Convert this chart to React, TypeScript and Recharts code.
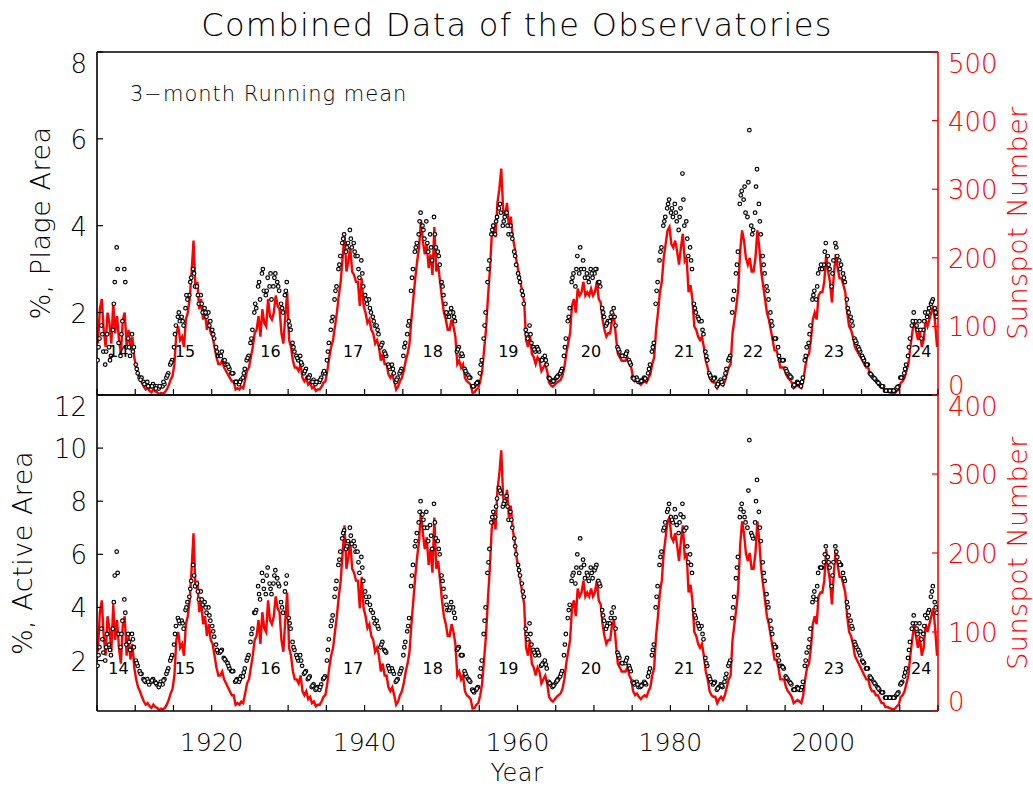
import React from 'react';
import { ComposedChart, Line, Scatter, XAxis, YAxis } from 'recharts';

const START_YEAR = 1905;

// sunspot number, 3-month running mean, 4 values per year, 1905 .. 2014
const sunspot = [
  [75, 125, 140, 95], [70, 120, 105, 75], [135, 90, 115, 80], [60, 110, 120, 70], [95, 65, 85, 55],
  [40, 30, 25, 18], [12, 8, 10, 6], [4, 8, 5, 4], [1, 3, 2, 4], [8, 14, 22, 28],
  [45, 90, 100, 80], [85, 70, 110, 120], [140, 180, 225, 155], [165, 125, 140, 110], [120, 95, 110, 90],
  [85, 70, 55, 45], [45, 50, 40, 35], [30, 25, 20, 20], [8, 10, 8, 12], [10, 22, 35, 40],
  [55, 70, 90, 95], [115, 85, 125, 105], [100, 140, 115, 110], [120, 145, 130, 125], [90, 75, 115, 150],
  [80, 70, 50, 40], [40, 35, 45, 25], [20, 25, 15, 18], [10, 12, 6, 8], [8, 12, 18, 20],
  [35, 55, 70, 80], [100, 120, 145, 165], [200, 235, 180, 195], [215, 180, 175, 165], [165, 130, 170, 130],
  [120, 105, 110, 95], [90, 75, 80, 70], [50, 60, 45, 45], [30, 25, 30, 20], [8, 12, 20, 25],
  [35, 50, 60, 75], [110, 140, 170, 195], [215, 255, 225, 205], [220, 185, 205, 175], [245, 180, 190, 165],
  [140, 120, 110, 95], [95, 110, 100, 85], [45, 50, 40, 45], [25, 20, 18, 15], [3, 4, 8, 10],
  [20, 35, 65, 95], [140, 180, 230, 250], [230, 280, 300, 330], [270, 260, 280, 245], [260, 230, 215, 195],
  [180, 165, 150, 135], [80, 70, 90, 60], [55, 45, 55, 50], [35, 40, 45, 35], [18, 14, 12, 15],
  [18, 20, 22, 28], [40, 60, 75, 90], [130, 140, 120, 155], [145, 150, 165, 145], [150, 145, 155, 145],
  [150, 165, 140, 135], [110, 95, 85, 90], [90, 110, 115, 85], [60, 55, 50, 50], [50, 55, 45, 40],
  [25, 20, 22, 18], [15, 18, 20, 18], [25, 30, 45, 55], [95, 120, 150, 165], [200, 220, 240, 245],
  [220, 215, 225, 210], [190, 215, 235, 195], [200, 150, 160, 140], [100, 95, 85, 80], [85, 70, 50, 40],
  [25, 20, 18, 18], [10, 15, 18, 14], [20, 30, 40, 45], [90, 110, 130, 155], [210, 240, 225, 200],
  [190, 200, 180, 180], [200, 240, 215, 180], [160, 140, 120, 110], [95, 80, 65, 65], [55, 40, 40, 40],
  [30, 25, 22, 18], [10, 12, 14, 12], [10, 20, 40, 55], [60, 80, 110, 120], [110, 145, 150, 150],
  [165, 205, 180, 165], [135, 175, 205, 185], [170, 170, 160, 150], [120, 100, 95, 85], [70, 65, 60, 55],
  [50, 45, 40, 40], [30, 25, 25, 20], [20, 15, 10, 10], [5, 5, 4, 3], [2, 3, 6, 8],
  [18, 20, 25, 35], [45, 70, 90, 110], [95, 80, 95, 70], [80, 110, 100, 110], [120, 130, 105, 70],
];

// plage area in %, 4 values per year
const plage = [
  [0.9, 1.4, 1.7, 1.1], [0.8, 1.5, 1.2, 1.0], [1.6, 2.7, 3.5, 1.3], [1.0, 1.8, 3.0, 1.2], [1.4, 1.0, 1.5, 1.2],
  [0.8, 0.6, 0.5, 0.5], [0.4, 0.35, 0.4, 0.3], [0.3, 0.35, 0.3, 0.3], [0.25, 0.3, 0.3, 0.35], [0.5, 0.6, 0.8, 0.9],
  [1.2, 1.7, 1.9, 1.8], [1.9, 1.7, 2.1, 2.3], [2.4, 2.8, 3.0, 2.6], [2.6, 2.2, 2.4, 2.0], [2.1, 1.9, 2.0, 1.8],
  [1.6, 1.4, 1.2, 1.0], [1.0, 1.1, 0.9, 0.8], [0.8, 0.7, 0.6, 0.6], [0.4, 0.4, 0.35, 0.45], [0.5, 0.7, 0.9, 1.0],
  [1.3, 1.6, 2.0, 2.1], [2.6, 2.3, 2.9, 2.5], [2.4, 2.8, 2.6, 2.3], [2.6, 2.9, 2.7, 2.5], [2.2, 2.0, 2.4, 2.7],
  [1.8, 1.6, 1.3, 1.1], [1.0, 0.9, 1.0, 0.8], [0.6, 0.7, 0.5, 0.55], [0.4, 0.45, 0.35, 0.4], [0.4, 0.5, 0.6, 0.6],
  [0.9, 1.3, 1.6, 1.9], [2.3, 2.6, 3.0, 3.3], [3.6, 3.8, 3.4, 3.6], [3.9, 3.5, 3.6, 3.3], [3.3, 2.8, 3.2, 2.6],
  [2.4, 2.2, 2.3, 2.0], [1.9, 1.7, 1.7, 1.5], [1.2, 1.3, 1.1, 1.0], [0.8, 0.7, 0.8, 0.6], [0.4, 0.5, 0.6, 0.7],
  [1.0, 1.3, 1.5, 1.8], [2.5, 3.0, 3.4, 3.6], [3.8, 4.3, 4.0, 3.7], [4.1, 3.4, 3.8, 3.2], [4.2, 3.5, 3.4, 3.1],
  [2.7, 2.4, 2.2, 1.9], [1.9, 2.1, 2.0, 1.8], [1.1, 1.2, 1.0, 1.0], [0.7, 0.6, 0.55, 0.5], [0.3, 0.3, 0.35, 0.4],
  [0.6, 0.9, 1.4, 2.0], [2.7, 3.2, 3.8, 4.0], [3.8, 4.2, 4.4, 4.3], [4.0, 4.2, 4.3, 3.8], [4.0, 3.7, 3.4, 3.1],
  [2.9, 2.7, 2.5, 2.2], [1.6, 1.4, 1.7, 1.3], [1.2, 1.1, 1.2, 1.1], [0.9, 0.95, 1.0, 0.8], [0.5, 0.45, 0.4, 0.45],
  [0.5, 0.55, 0.6, 0.7], [1.0, 1.4, 1.8, 2.1], [2.7, 2.9, 2.6, 3.3], [2.9, 3.0, 3.2, 2.8], [2.9, 2.7, 3.0, 2.8],
  [2.9, 3.0, 2.7, 2.6], [2.1, 1.9, 1.7, 1.8], [1.8, 2.0, 2.1, 1.7], [1.2, 1.1, 1.0, 1.0], [1.0, 1.1, 0.9, 0.8],
  [0.5, 0.45, 0.5, 0.4], [0.4, 0.45, 0.5, 0.45], [0.6, 0.8, 1.1, 1.3], [2.2, 2.7, 3.2, 3.5], [4.0, 4.2, 4.4, 4.6],
  [4.3, 4.2, 4.5, 4.1], [3.9, 4.4, 5.2, 4.0], [4.1, 3.3, 3.5, 3.0], [2.2, 2.0, 1.9, 1.8], [1.8, 1.5, 1.1, 0.9],
  [0.6, 0.5, 0.45, 0.5], [0.3, 0.4, 0.45, 0.35], [0.5, 0.7, 0.9, 1.0], [2.0, 2.5, 2.9, 3.4], [4.5, 4.8, 4.6, 4.3],
  [4.2, 6.2, 4.0, 3.9], [4.3, 5.3, 4.5, 3.8], [3.3, 2.9, 2.6, 2.3], [2.0, 1.7, 1.4, 1.4], [1.2, 0.9, 0.9, 0.9],
  [0.7, 0.6, 0.55, 0.5], [0.3, 0.35, 0.4, 0.35], [0.3, 0.5, 0.9, 1.2], [1.3, 1.7, 2.3, 2.5], [2.3, 2.9, 3.0, 3.0],
  [3.1, 3.6, 3.3, 3.0], [2.6, 3.2, 3.6, 3.3], [3.2, 3.1, 2.9, 2.7], [2.3, 2.0, 1.9, 1.7], [1.4, 1.3, 1.2, 1.1],
  [1.0, 0.9, 0.8, 0.8], [0.6, 0.55, 0.5, 0.45], [0.4, 0.35, 0.3, 0.3], [0.2, 0.2, 0.2, 0.2], [0.2, 0.2, 0.25, 0.3],
  [0.5, 0.5, 0.6, 0.8], [1.0, 1.4, 1.7, 2.0], [1.8, 1.6, 1.8, 1.4], [1.6, 2.0, 1.9, 2.1], [2.2, 2.3, 2.1, 1.9],
];

// plage area in %, second observatory, 2 values per year
const plageB = [
  [1.2, 1.5], [1.1, 0.9], [2.2, 3.0], [1.5, 2.7], [1.2, 1.1], [0.7, 0.45], [0.35, 0.3], [0.3, 0.25], [0.3, 0.4], [0.55, 0.85],
  [1.5, 2.0], [1.8, 2.4], [2.7, 2.9], [2.4, 2.2], [2.0, 1.7], [1.5, 1.1], [1.0, 0.9], [0.75, 0.6], [0.4, 0.4], [0.6, 0.95],
  [1.4, 2.2], [2.7, 3.0], [2.5, 2.9], [2.8, 2.6], [2.1, 2.5], [1.7, 1.2], [0.95, 0.85], [0.65, 0.5], [0.4, 0.4], [0.45, 0.65],
  [1.1, 1.8], [2.5, 3.1], [3.7, 3.5], [3.7, 3.4], [3.0, 2.9], [2.3, 2.1], [1.8, 1.6], [1.25, 1.05], [0.75, 0.7], [0.45, 0.65],
  [1.2, 1.7], [2.8, 3.5], [4.1, 3.9], [3.6, 3.5], [3.8, 3.3], [2.6, 2.0], [2.0, 1.9], [1.15, 1.05], [0.65, 0.5], [0.3, 0.38],
  [0.8, 1.7], [3.0, 3.9], [4.1, 4.5], [4.1, 4.0], [3.8, 3.3], [2.8, 2.4], [1.5, 1.5], [1.15, 1.15], [0.9, 0.9], [0.48, 0.42],
  [0.52, 0.65], [1.2, 1.9], [2.8, 3.0], [3.5, 3.0], [2.8, 2.9], [3.0, 2.7], [2.0, 1.75], [1.9, 1.9], [1.15, 1.0], [1.05, 0.85],
  [0.48, 0.45], [0.42, 0.48], [0.7, 1.2], [2.5, 3.4], [4.1, 4.5], [4.4, 4.3], [4.2, 4.6], [3.7, 3.2], [2.1, 1.85], [1.6, 1.0],
  [0.55, 0.48], [0.35, 0.4], [0.6, 0.95], [2.3, 3.1], [4.7, 4.9], [5.0, 3.8], [4.9, 4.1], [3.1, 2.5], [1.8, 1.4], [1.0, 0.9],
  [0.65, 0.52], [0.33, 0.38], [0.4, 1.0], [1.5, 2.4], [2.6, 3.1], [3.4, 3.1], [2.9, 3.5], [3.0, 2.8], [2.1, 1.8], [1.35, 1.15],
  [0.95, 0.8], [0.58, 0.48], [0.38, 0.3], [0.2, 0.2], [0.2, 0.28], [0.5, 0.7], [1.2, 1.8], [1.7, 1.6], [1.8, 2.0], [2.25, 2.0],
];

// active area in %, 4 values per year
const active = [
  [1.8, 2.5, 3.2, 2.3], [2.0, 3.0, 2.6, 2.2], [3.2, 5.2, 6.1, 3.0], [2.5, 3.5, 4.3, 2.6], [3.0, 2.4, 3.0, 2.5],
  [2.0, 1.8, 1.6, 1.5], [1.3, 1.2, 1.3, 1.1], [1.2, 1.3, 1.2, 1.1], [1.0, 1.2, 1.1, 1.3], [1.5, 1.7, 2.0, 2.2],
  [2.6, 3.3, 3.6, 3.4], [3.5, 3.2, 3.9, 4.2], [4.4, 5.0, 5.6, 4.8], [4.9, 4.3, 4.6, 4.1], [4.2, 3.8, 4.0, 3.5],
  [3.3, 2.9, 2.6, 2.3], [2.3, 2.4, 2.1, 2.0], [1.9, 1.7, 1.6, 1.6], [1.2, 1.3, 1.2, 1.4], [1.4, 1.7, 2.0, 2.2],
  [2.7, 3.2, 3.8, 3.9], [4.8, 4.3, 5.3, 4.7], [4.5, 5.5, 4.9, 4.5], [4.9, 5.4, 5.1, 4.8], [4.2, 3.8, 4.6, 5.2],
  [3.6, 3.2, 2.7, 2.4], [2.2, 2.0, 2.2, 1.8], [1.5, 1.6, 1.3, 1.4], [1.0, 1.1, 0.9, 1.0], [0.9, 1.1, 1.3, 1.4],
  [2.0, 2.8, 3.3, 3.7], [4.4, 5.0, 5.6, 6.1], [6.6, 6.9, 6.2, 6.5], [7.0, 6.4, 6.5, 6.1], [6.1, 5.3, 5.9, 5.0],
  [4.6, 4.2, 4.4, 3.9], [3.8, 3.4, 3.5, 3.2], [2.5, 2.7, 2.4, 2.3], [1.8, 1.6, 1.7, 1.5], [1.2, 1.3, 1.5, 1.7],
  [2.2, 2.7, 3.1, 3.6], [4.8, 5.6, 6.3, 6.8], [7.2, 8.0, 7.5, 7.0], [7.6, 6.5, 7.1, 6.2], [7.9, 6.6, 6.5, 6.0],
  [5.2, 4.7, 4.4, 3.9], [3.9, 4.2, 4.0, 3.6], [2.4, 2.5, 2.2, 2.2], [1.6, 1.4, 1.3, 1.2], [0.9, 0.8, 0.9, 1.0],
  [1.4, 2.0, 3.0, 4.0], [5.3, 6.2, 7.2, 7.6], [7.4, 8.1, 8.5, 8.3], [7.8, 8.0, 8.2, 7.3], [7.6, 7.0, 6.6, 6.0],
  [5.6, 5.2, 4.9, 4.4], [3.2, 2.8, 3.4, 2.6], [2.4, 2.2, 2.4, 2.2], [1.8, 1.9, 2.0, 1.7], [1.2, 1.1, 1.0, 1.1],
  [1.2, 1.3, 1.4, 1.6], [2.2, 3.0, 3.6, 4.1], [5.0, 5.3, 4.9, 6.0], [5.3, 5.5, 5.8, 5.1], [5.3, 5.0, 5.5, 5.1],
  [5.4, 5.6, 5.0, 4.8], [3.9, 3.5, 3.2, 3.4], [3.4, 3.8, 4.0, 3.2], [2.3, 2.1, 1.9, 1.9], [1.9, 2.1, 1.8, 1.6],
  [1.2, 1.1, 1.2, 1.0], [1.0, 1.1, 1.2, 1.1], [1.4, 1.7, 2.2, 2.6], [4.0, 4.8, 5.6, 6.1], [6.9, 7.2, 7.6, 7.9],
  [7.4, 7.2, 7.7, 7.1], [6.8, 7.5, 7.9, 6.9], [7.0, 5.7, 6.0, 5.3], [3.9, 3.6, 3.4, 3.2], [3.3, 2.8, 2.1, 1.8],
  [1.4, 1.2, 1.1, 1.2], [0.9, 1.0, 1.1, 1.0], [1.2, 1.5, 1.8, 2.0], [3.6, 4.4, 5.1, 5.9], [7.4, 7.9, 7.6, 7.2],
  [7.0, 10.3, 6.8, 6.6], [7.2, 8.8, 7.6, 6.5], [5.7, 5.0, 4.5, 4.0], [3.5, 3.0, 2.6, 2.5], [2.2, 1.8, 1.8, 1.7],
  [1.4, 1.3, 1.2, 1.1], [0.9, 0.9, 1.0, 0.9], [0.9, 1.2, 1.8, 2.3], [2.5, 3.2, 4.2, 4.6], [4.3, 5.3, 5.5, 5.5],
  [5.7, 6.3, 5.9, 5.5], [4.8, 5.7, 6.3, 5.9], [5.7, 5.6, 5.3, 5.0], [4.2, 3.7, 3.5, 3.2], [2.7, 2.5, 2.4, 2.2],
  [2.0, 1.9, 1.7, 1.7], [1.4, 1.3, 1.2, 1.1], [1.0, 0.9, 0.8, 0.8], [0.6, 0.6, 0.6, 0.6], [0.6, 0.6, 0.7, 0.8],
  [1.1, 1.2, 1.4, 1.7], [2.1, 2.7, 3.2, 3.7], [3.4, 3.0, 3.4, 2.8], [3.0, 3.7, 3.6, 3.9], [4.4, 4.8, 4.2, 3.8],
];

// active area in %, second observatory, 2 values per year
const activeB = [
  [2.2, 2.8], [2.5, 2.4], [4.2, 5.3], [3.0, 3.8], [2.7, 2.8], [1.9, 1.5], [1.25, 1.2], [1.25, 1.15], [1.1, 1.25], [1.6, 2.1],
  [3.0, 3.5], [3.4, 4.0], [4.7, 5.2], [4.6, 4.3], [4.0, 3.7], [3.1, 2.4], [2.35, 2.05], [1.8, 1.6], [1.25, 1.3], [1.55, 2.1],
  [3.0, 3.8], [4.5, 5.0], [5.2, 4.7], [5.2, 4.9], [4.0, 4.9], [3.4, 2.5], [2.1, 2.0], [1.55, 1.35], [1.05, 0.95], [1.0, 1.35],
  [2.4, 3.5], [4.7, 5.8], [6.8, 6.3], [6.7, 6.3], [5.7, 5.5], [4.4, 4.1], [3.6, 3.3], [2.6, 2.35], [1.7, 1.6], [1.25, 1.6],
  [2.5, 3.3], [5.2, 6.5], [7.6, 7.3], [7.0, 6.7], [7.2, 6.2], [5.0, 4.1], [4.0, 3.8], [2.45, 2.2], [1.5, 1.25], [0.85, 0.95],
  [1.7, 3.5], [5.7, 7.4], [7.8, 8.4], [7.9, 7.8], [7.3, 6.3], [5.4, 4.6], [3.0, 3.0], [2.3, 2.3], [1.85, 1.85], [1.15, 1.05],
  [1.25, 1.5], [2.6, 3.9], [5.2, 5.5], [6.6, 5.6], [5.2, 5.3], [5.5, 4.9], [3.7, 3.3], [3.6, 3.6], [2.2, 1.9], [2.0, 1.7],
  [1.15, 1.1], [1.05, 1.15], [1.55, 2.4], [4.4, 5.9], [7.0, 7.7], [7.3, 7.4], [7.2, 7.4], [6.3, 5.6], [3.7, 3.3], [3.0, 1.9],
  [1.3, 1.15], [0.95, 1.05], [1.35, 1.9], [4.0, 5.5], [7.7, 7.4], [8.4, 6.7], [8.0, 7.0], [5.3, 4.2], [3.2, 2.5], [2.0, 1.75],
  [1.35, 1.15], [0.9, 0.95], [1.0, 2.0], [2.8, 4.4], [4.8, 5.5], [6.0, 5.7], [5.2, 6.1], [5.6, 5.1], [4.0, 3.3], [2.6, 2.3],
  [1.95, 1.7], [1.35, 1.15], [0.95, 0.8], [0.6, 0.6], [0.6, 0.75], [1.15, 1.55], [2.4, 3.4], [3.2, 3.1], [3.3, 3.8], [4.6, 4.0],
];

const cycleNames = ['14', '15', '16', '17', '18', '19', '20', '21', '22', '23', '24'];
const cycleYears = [1907.8, 1916.5, 1927.7, 1938.5, 1948.9, 1958.8, 1969.6, 1981.8, 1990.8, 2001.4, 2012.8];

const yearTicks = [1905, 1910, 1915, 1920, 1925, 1930, 1935, 1940, 1945, 1950, 1955, 1960, 1965, 1970, 1975, 1980, 1985, 1990, 1995, 2000, 2005, 2010, 2015];
const plageTicks = [2, 4, 6, 8];
const activeTicks = [2, 4, 6, 8, 10, 12];
const ssnTicksTop = [0, 100, 200, 300, 400, 500];
const ssnTicksBottom = [0, 100, 200, 300, 400];

const ssnData = sunspot.flatMap((row, i) => row.map((v, q) => ({ t: START_YEAR + i + (q + 0.5) / 4, ssn: v })));
const toDots = (a: number[][], b: number[][]) => [
  ...a.flatMap((row, i) => row.map((v, q) => ({ t: START_YEAR + i + (q + 0.3) / 4, v }))),
  ...b.flatMap((row, i) => row.map((v, q) => ({ t: START_YEAR + i + 0.2 + q * 0.5, v }))),
];
const plageData = toDots(plage, plageB);
const activeData = toDots(active, activeB);
const cyclesTop = cycleNames.map((n, i) => ({ t: cycleYears[i], v: 1.1, n }));
const cyclesBottom = cycleNames.map((n, i) => ({ t: cycleYears[i], v: 1.7, n }));

const FONT = '"DejaVu Sans", sans-serif';
const RED = '#ff0000';
const W = 1033;
const AX = 30; // axis box size

const dot = (p: any) => <circle cx={p.cx} cy={p.cy} r={1.8} fill="#fff" stroke="#000" strokeWidth={1.2} />;
const cycleLabel = (p: any) => (
  <text x={p.cx} y={p.cy} textAnchor="middle" dominantBaseline="central" fontFamily={FONT} fontSize={16} fill="#000">
    {p.payload.n}
  </text>
);

const xTick = (dir: number, labels: boolean) => (p: any) => {
  const v = p.payload.value;
  return (
    <g>
      <line x1={p.x} x2={p.x} y1={p.y} y2={p.y + dir * 6} stroke="#000" strokeWidth={1.2} />
      {labels && v % 20 === 0 && (
        <text x={p.x} y={p.y + 31} textAnchor="middle" dominantBaseline="central" fontFamily={FONT} fontWeight={200} fontSize={25} fill="#000">
          {v}
        </text>
      )}
    </g>
  );
};

// end labels are pushed inside the panel, like the original plot
const shift = (v: number, lo: number, hi: number) => (v === hi ? 12 : v === lo ? -9 : 1);

const leftTick = (hi: number) => (p: any) => (
  <g>
    <line x1={p.x} x2={p.x + 6} y1={p.y} y2={p.y} stroke="#000" strokeWidth={1.2} />
    <text x={p.x - 10} y={p.y + shift(p.payload.value, 0, hi)} textAnchor="end" dominantBaseline="central" fontFamily={FONT} fontWeight={200} fontSize={26} fill="#000">
      {p.payload.value}
    </text>
  </g>
);

const rightTick = (hi: number) => (p: any) => (
  <g>
    <line x1={p.x} x2={p.x - 6} y1={p.y} y2={p.y} stroke={RED} strokeWidth={1.2} />
    <text x={p.x + 10} y={p.y + shift(p.payload.value, 0, hi)} textAnchor="start" dominantBaseline="central" fontFamily={FONT} fontWeight={200} fontSize={26} fill={RED}>
      {p.payload.value}
    </text>
  </g>
);

function Panel(props: {
  top: number; bottom: number; height: number; dots: any[]; cycles: any[];
  leftMax: number; leftTicks: number[]; rightMax: number; rightTicks: number[]; labels: boolean;
}) {
  const { top, bottom, height, dots, cycles, leftMax, leftTicks, rightMax, rightTicks, labels } = props;
  return (
    <div style={{ position: 'absolute', left: 0, top: 0 }}>
      <ComposedChart
        width={W}
        height={height}
        margin={{ top: top - AX, left: 97 - AX, right: W - 938 - AX, bottom: height - bottom - AX }}
      >
        <XAxis
          dataKey="t" type="number" domain={[1905, 2015]} ticks={yearTicks} interval={0}
          allowDataOverflow height={AX} tickSize={0} tickMargin={0}
          axisLine={{ stroke: '#000', strokeWidth: 1.6 }} tickLine={false} tick={xTick(-1, labels)}
        />
        <XAxis
          xAxisId="top" orientation="top" type="number" domain={[1905, 2015]} ticks={yearTicks} interval={0}
          allowDataOverflow height={AX} tickSize={0} tickMargin={0}
          axisLine={{ stroke: '#000', strokeWidth: 1.6 }} tickLine={false} tick={xTick(1, false)}
        />
        <YAxis
          yAxisId="l" type="number" domain={[0.1, leftMax]} ticks={leftTicks} interval={0} allowDataOverflow
          width={AX} tickSize={0} tickMargin={0} axisLine={{ stroke: '#000', strokeWidth: 1.6 }} tickLine={false} tick={leftTick(leftMax)}
        />
        <YAxis
          yAxisId="r" orientation="right" type="number" domain={[0, rightMax]} ticks={rightTicks} interval={0} allowDataOverflow
          width={AX} tickSize={0} tickMargin={0} axisLine={{ stroke: RED, strokeWidth: 1.6 }} tickLine={false} tick={rightTick(rightMax)}
        />
        <Scatter data={dots} dataKey="v" yAxisId="l" shape={dot} isAnimationActive={false} />
        <Line
          data={ssnData} dataKey="ssn" yAxisId="r" type="linear" stroke={RED} strokeWidth={2.4}
          dot={false} activeDot={false} isAnimationActive={false}
        />
        <Scatter data={cycles} dataKey="v" yAxisId="l" shape={cycleLabel} isAnimationActive={false} />
      </ComposedChart>
    </div>
  );
}

export default function App() {
  const txt = { fontFamily: FONT, fontWeight: 200 } as const;
  return (
    <div style={{ position: 'absolute', left: 0, top: 0, width: W, height: 787, background: '#fff' }}>
      <Panel
        top={52} bottom={395} height={430} dots={plageData} cycles={cyclesTop}
        leftMax={8} leftTicks={plageTicks} rightMax={500} rightTicks={ssnTicksTop} labels={false}
      />
      <Panel
        top={395} bottom={711} height={787} dots={activeData} cycles={cyclesBottom}
        leftMax={12} leftTicks={activeTicks} rightMax={400} rightTicks={ssnTicksBottom} labels={true}
      />
      <svg width={W} height={787} style={{ position: 'absolute', left: 0, top: 0, pointerEvents: 'none' }}>
        <text x={517} y={25} textAnchor="middle" dominantBaseline="central" fontSize={32} letterSpacing={1.3} {...txt}>
          Combined Data of the Observatories
        </text>
        <text x={130} y={94} dominantBaseline="central" fontSize={21} letterSpacing={1} {...txt}>3−month Running mean</text>
        <text transform="translate(40,223) rotate(-90)" textAnchor="middle" dominantBaseline="central" fontSize={27} letterSpacing={0.5} {...txt}>
          %, Plage Area
        </text>
        <text transform="translate(22,553) rotate(-90)" textAnchor="middle" dominantBaseline="central" fontSize={27} letterSpacing={0.5} {...txt}>
          %, Active Area
        </text>
        <text transform="translate(1017,223) rotate(-90)" textAnchor="middle" dominantBaseline="central" fontSize={27} letterSpacing={0.5} fill={RED} {...txt}>
          Sunspot Number
        </text>
        <text transform="translate(1017,553) rotate(-90)" textAnchor="middle" dominantBaseline="central" fontSize={27} letterSpacing={0.5} fill={RED} {...txt}>
          Sunspot Number
        </text>
        <text x={517} y={773} textAnchor="middle" dominantBaseline="central" fontSize={24} letterSpacing={0.5} {...txt}>Year</text>
      </svg>
    </div>
  );
}
